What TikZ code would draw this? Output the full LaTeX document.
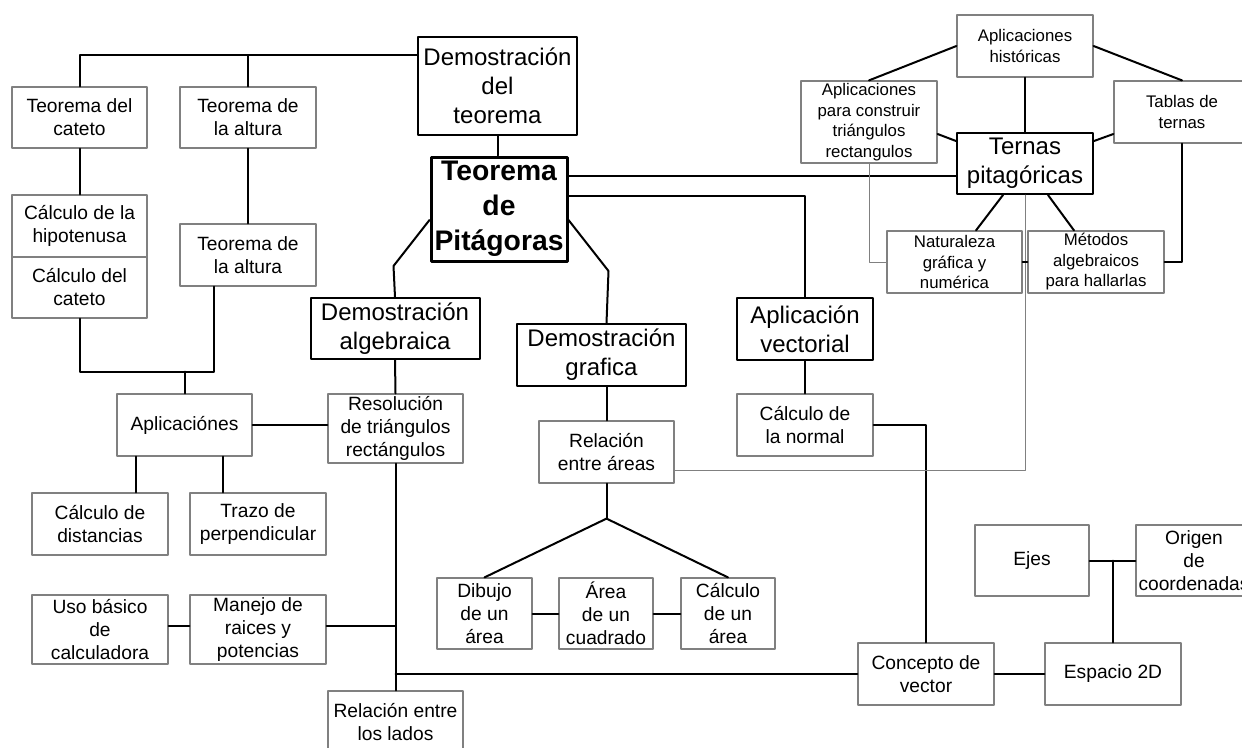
\documentclass[tikz,border=0pt]{standalone}
\usepackage{fontspec}
\setmainfont{Liberation Sans}
\begin{document}
\begin{tikzpicture}[line cap=round,line join=round,x=1pt,y=-1pt,
	box/.style={draw=gray,line width=1.2pt,inner sep=1pt,align=center,font=\fontsize{19.2}{23}\selectfont},
	tbox/.style={box,font=\fontsize{16.8}{20.5}\selectfont},
	bigbox/.style={box,draw=black,line width=2pt,font=\fontsize{24}{29}\selectfont},
	pitbox/.style={box,draw=black,line width=3pt,font=\bfseries\fontsize{28.3}{35}\selectfont},
	conn/.style={line width=2pt},
	faint/.style={draw=gray,line width=1pt}]
				\useasboundingbox (0,0) rectangle (1242,747);
				\clip (0,0) rectangle (1242,747);
				\node[box,minimum width=135,minimum height=61] (tcat) at (79.5,117.5) {Teorema del\\cateto};
				\node[box,minimum width=136,minimum height=61] (talta) at (248,117.5) {Teorema de\\la altura};
				\node[box,minimum width=135,minimum height=62] (hipo) at (79.5,226) {Cálculo de la\\hipotenusa};
				\node[box,minimum width=135,minimum height=61] (ccat) at (79.5,287.5) {Cálculo del\\cateto};
				\node[box,minimum width=136,minimum height=62] (taltb) at (248,255) {Teorema de\\la altura};
				\node[bigbox,minimum width=159,minimum height=98] (demt) at (497.5,86) {Demostración\\del\\teorema};
				\node[pitbox,minimum width=136,minimum height=104] (pit) at (499,209) {Teorema\\de\\Pitágoras};
				\node[bigbox,minimum width=169,minimum height=61] (dalg) at (395,328.5) {Demostración\\algebraica};
				\node[bigbox,minimum width=169,minimum height=62] (dgraf) at (601.5,355) {Demostración\\grafica};
				\node[bigbox,minimum width=136,minimum height=62] (avec) at (805,329) {Aplicación\\vectorial};
				\node[tbox,minimum width=136,minimum height=62] (hist) at (1025,46) {Aplicaciones\\históricas};
				\node[tbox,minimum width=136,minimum height=82] (constr) at (869,122) {Aplicaciones\\para construir\\triángulos\\rectangulos};
				\node[tbox,minimum width=136,minimum height=62] (tablas) at (1182,112) {Tablas de\\ternas};
				\node[bigbox,minimum width=136,minimum height=61] (ternas) at (1025,163.5) {Ternas\\pitagóricas};
				\node[tbox,minimum width=135,minimum height=62] (natu) at (954.5,262) {Naturaleza\\gráfica y\\numérica};
				\node[tbox,minimum width=136,minimum height=62] (metod) at (1096,262) {Métodos\\algebraicos\\para hallarlas};
				\node[box,minimum width=135,minimum height=62] (aplic) at (184.5,425) {Aplicaciónes};
				\node[box,minimum width=135,minimum height=69] (resol) at (395.5,428.5) {Resolución\\de triángulos\\rectángulos};
				\node[box,minimum width=136,minimum height=62] (dist) at (100,524) {Cálculo de\\distancias};
				\node[box,minimum width=136,minimum height=62] (trazo) at (258,524) {Trazo de\\perpendicular};
				\node[box,minimum width=136,minimum height=69] (uso) at (100,629.5) {Uso básico\\de\\calculadora};
				\node[box,minimum width=136,minimum height=69] (manejo) at (258,629.5) {Manejo de\\raices y\\potencias};
				\node[box,minimum width=135,minimum height=62] (lados) at (395.5,722) {Relación entre\\los lados};
				\node[box,minimum width=135,minimum height=62] (areas) at (606.5,452) {Relación\\entre áreas};
				\node[box,minimum width=95,minimum height=71] (dibujo) at (484.5,613.5) {Dibujo\\de un\\área};
				\node[box,minimum width=94,minimum height=71] (cuadr) at (606,613.5) {Área\\de un\\cuadrado};
				\node[box,minimum width=94,minimum height=71] (carea) at (728,613.5) {Cálculo\\de un\\área};
				\node[box,minimum width=136,minimum height=62] (normal) at (805,425) {Cálculo de\\la normal};
				\node[box,minimum width=136,minimum height=62] (vector) at (926,674) {Concepto de\\vector};
				\node[box,minimum width=136,minimum height=62] (esp) at (1113,674) {Espacio 2D};
				\node[box,minimum width=114,minimum height=71] (ejes) at (1032,560.5) {Ejes};
				\node[box,minimum width=116,minimum height=71] (origen) at (1194,560.5) {Origen\\de\\coordenadas};
				\path (tcat.north) ++(0,-31) coordinate (bus);
				\path (ccat.south) ++(0,53) coordinate (jizq);
				\path ([yshift=33pt]pit.east) coordinate (pa);
				\path ([xshift=20pt]aplic.south west) coordinate (aa) ([xshift=-30pt]aplic.south east) coordinate (ab);
				\path ([yshift=3.5pt]manejo.east) coordinate (mm);
				\draw[conn] (tcat.north) -- (bus) -- (bus -| demt.west);
				\draw[conn] (talta.north) -- (talta.north |- bus);
				\draw[conn] (tcat.south) -- (hipo.north);
				\draw[conn] (talta.south) -- (taltb.north);
				\draw[conn] (ccat.south) -- (jizq) -| ([xshift=-34pt]taltb.south);
				\draw[conn] (aplic.north) -- (aplic.north |- jizq);
				\draw[conn] (demt.south) -- (demt.south |- pit.north);
				\draw[conn] (pa) -- (pa -| ternas.west);
				\draw[conn] ([yshift=13pt]pit.east) -| (avec.north);
				\draw[conn] ([yshift=-11pt]pit.west) -- ++(-36,46) -- (dalg.north);
				\draw[conn] ([yshift=-11pt]pit.east) -- ++(40,51) -- (areas.north |- dgraf.north);
				\draw[conn] (areas.north |- dgraf.south) -- (areas.north);
				\draw[conn] (areas.south) -- ++(0,35) coordinate (jarea);
				\draw[conn] (dibujo.north) -- (jarea) -- (carea.north);
				\draw[conn] (dibujo) -- (cuadr);
				\draw[conn] (cuadr) -- (carea);
				\draw[conn] (avec) -- (normal);
				\draw[conn] (normal.east) -| (vector.north);
				\draw[conn] (dalg.south) -- (resol.north);
				\draw[conn] (resol.south) -- (lados.north);
				\draw[conn] (aplic.east) -- (aplic.east -| resol.west);
				\draw[conn] (aa) -- (aa |- dist.north);
				\draw[conn] (ab) -- (ab |- trazo.north);
				\draw[conn] ([yshift=3.5pt]uso.east) -- ([yshift=3.5pt]manejo.west);
				\draw[conn] (mm) -- (mm -| resol.south);
				\draw[conn] (vector.west) -- (vector.west -| resol.south);
				\draw[conn] (vector) -- (esp);
				\draw[conn] (ejes) -- (origen);
				\draw[conn] (esp.north) -- (esp.north |- ejes.east);
				\draw[faint] (constr.south) |- (natu.west);
				\draw[faint] (ternas.south) |- ([yshift=-18pt]areas.east);
				\draw[conn] (hist.west) -- (constr.north);
				\draw[conn] (hist.east) -- (tablas.north);
				\draw[conn] (hist) -- (ternas);
				\draw[conn] ([yshift=-12pt]constr.east) -- ([yshift=22.5pt]ternas.west);
				\draw[conn] ([yshift=-22pt]tablas.west) -- ([yshift=22.5pt]ternas.east);
				\draw[conn] ([xshift=-22pt]ternas.south) -- ([xshift=21.5pt]natu.north);
				\draw[conn] ([xshift=23pt]ternas.south) -- ([xshift=-22pt]metod.north);
				\draw[conn] (tablas.south) |- (metod.east);
				\draw[conn] (natu) -- (metod);
\end{tikzpicture}
\end{document}
